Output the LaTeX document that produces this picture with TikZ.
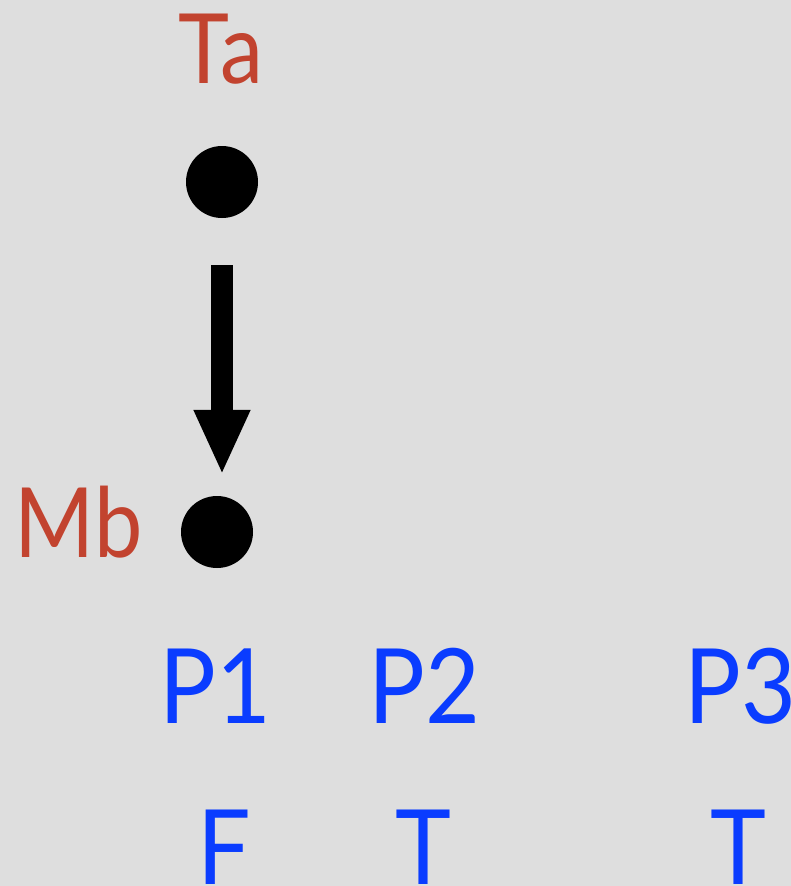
\documentclass[tikz,border=0pt]{standalone}
\usepackage{fontspec}
\setmainfont{Lato}
\usetikzlibrary{arrows.meta}
\definecolor{bgpaper}{HTML}{DEDEDE}
\definecolor{labelred}{HTML}{C2432F}
\definecolor{labelblue}{HTML}{0A3CFF}
\begin{document}
\begin{tikzpicture}[x=1pt,y=-1pt,
  redlabel/.style={text=labelred,inner sep=0pt,xscale=0.89,font=\fontsize{97}{97}\selectfont},
  bluelabel/.style={text=labelblue,inner sep=0pt,xscale=0.91,font=\fontsize{104}{104}\selectfont},
  dot/.style={circle,fill=black,minimum size=72pt,inner sep=0pt},
  bigarrow/.style={line width=22pt,-{Triangle[width=52pt,length=65pt]}}]
  % paper background
  \fill[bgpaper] (0,0) rectangle (791,886);
  \useasboundingbox (0,0) rectangle (791,886);

  % vertices and their names
  \node[dot] (tadot) at (222,182) {};
  \node[dot] (mbdot) at (217,532) {};
  \node[redlabel,anchor=base] (ta) at (221,83) {Ta};
  \node[redlabel,anchor=base east] (mb) at (143,557) {Mb};

  % edge from Ta to Mb
  \draw[bigarrow,shorten <=47pt,shorten >=21pt]
    (tadot.south) -- (tadot.south |- mbdot.north);

  % processes and their values
  \node[bluelabel,anchor=base] (p1) at (215,723) {P1};
  \node[bluelabel,anchor=base] (p2) at (424,723) {P2};
  \node[bluelabel,anchor=base] (p3) at (740,723) {P3};
  \node[bluelabel,anchor=base] (v1) at (224,884) {F};
  \node[bluelabel,anchor=base] (v2) at (423,884) {T};
  \node[bluelabel,anchor=base] (v3) at (738,884) {T};
\end{tikzpicture}
\end{document}
